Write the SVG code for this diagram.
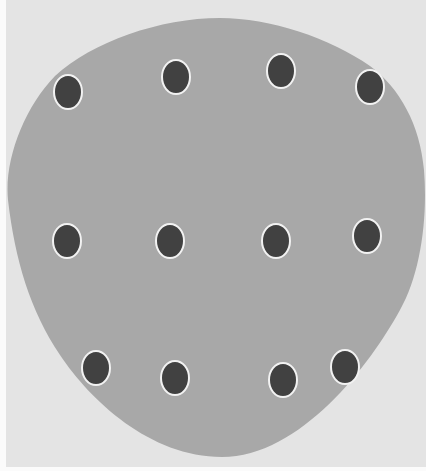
<svg xmlns="http://www.w3.org/2000/svg" width="426" height="471" viewBox="0 0 426 471">
<style>
.dot{fill:#414141;stroke:#f2f2f2;stroke-width:2}
</style>
<rect x="0" y="0" width="426" height="471" fill="#fbfbfb"/>
<rect x="6" y="0" width="420" height="467" fill="#e4e4e4"/>
<path id="blob" d="M 220,18 C 270,18 330,38 370,66 C 400,88 420,125 424,170 C 428,220 420,275 400,310 C 370,365 300,457 222,457 C 150,457 90,400 60,355 C 30,310 15,260 8,200 C 4,160 24,108 55,76 C 92,42 160,18 220,18 Z" fill="#a8a8a8"/>
<g id="dots">
<ellipse class="dot" cx="68" cy="92" rx="14" ry="17"/>
<ellipse class="dot" cx="176" cy="77" rx="14" ry="17"/>
<ellipse class="dot" cx="281" cy="71" rx="14" ry="17"/>
<ellipse class="dot" cx="370" cy="87" rx="14" ry="17"/>
<ellipse class="dot" cx="67" cy="241" rx="14" ry="17"/>
<ellipse class="dot" cx="170" cy="241" rx="14" ry="17"/>
<ellipse class="dot" cx="276" cy="241" rx="14" ry="17"/>
<ellipse class="dot" cx="367" cy="236" rx="14" ry="17"/>
<ellipse class="dot" cx="96" cy="368" rx="14" ry="17"/>
<ellipse class="dot" cx="175" cy="378" rx="14" ry="17"/>
<ellipse class="dot" cx="283" cy="380" rx="14" ry="17"/>
<ellipse class="dot" cx="345" cy="367" rx="14" ry="17"/>
</g>
</svg>
